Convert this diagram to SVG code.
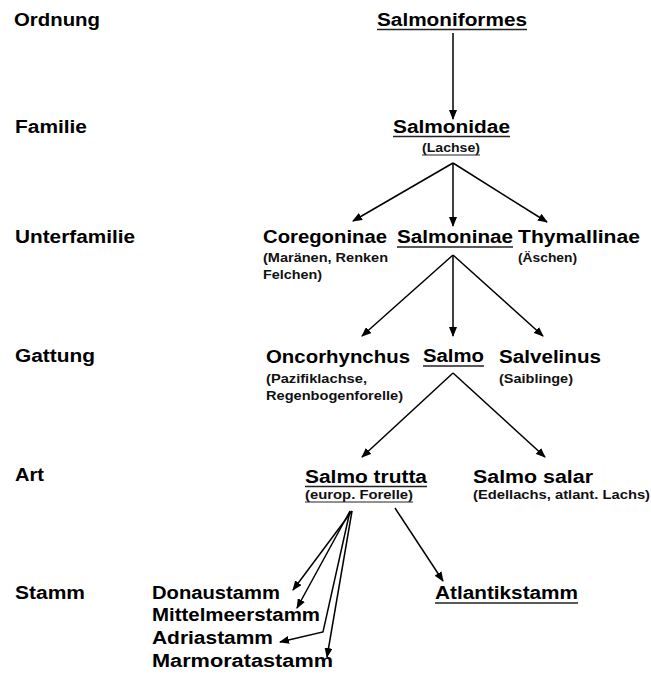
<svg xmlns="http://www.w3.org/2000/svg" width="651" height="680" viewBox="0 0 651 680">
<defs>
<marker id="ah" markerWidth="10" markerHeight="8" refX="9" refY="4" orient="auto" markerUnits="userSpaceOnUse">
<path d="M0,0 L10,4 L0,8 Z" fill="#000"/>
</marker>
<style>
.t{font-family:"Liberation Sans",Arial,sans-serif;font-weight:bold;font-size:18px;fill:#000}
.s{font-family:"Liberation Sans",Arial,sans-serif;font-weight:bold;font-size:12px;fill:#111}
.u{stroke:#222;stroke-width:1.5}
.c{stroke:#000;stroke-width:1.5;fill:none;marker-end:url(#ah)}
</style>
</defs>
<rect width="651" height="680" fill="#fff"/>
<g id="ranks">
<text class="t" x="14" y="26" textLength="86" lengthAdjust="spacingAndGlyphs">Ordnung</text>
<text class="t" x="15" y="133" textLength="72" lengthAdjust="spacingAndGlyphs">Familie</text>
<text class="t" x="15" y="243" textLength="120" lengthAdjust="spacingAndGlyphs">Unterfamilie</text>
<text class="t" x="15" y="362" textLength="80" lengthAdjust="spacingAndGlyphs">Gattung</text>
<text class="t" x="15" y="481" textLength="29" lengthAdjust="spacingAndGlyphs">Art</text>
<text class="t" x="15" y="599" textLength="70" lengthAdjust="spacingAndGlyphs">Stamm</text>
</g>
<g id="salmoniformes">
<text class="t" x="377" y="26" textLength="150" lengthAdjust="spacingAndGlyphs">Salmoniformes</text>
<line class="u" x1="377" y1="29.5" x2="527" y2="29.5"/>
</g>
<g id="salmonidae">
<text class="t" x="393" y="133" textLength="117" lengthAdjust="spacingAndGlyphs">Salmonidae</text>
<line class="u" x1="393" y1="136.5" x2="510" y2="136.5"/>
<text class="s" x="422" y="152" textLength="58" lengthAdjust="spacingAndGlyphs">(Lachse)</text>
<line class="u" x1="422" y1="155" x2="480" y2="155" style="stroke-width:1"/>
</g>
<g id="coregoninae">
<text class="t" x="263" y="243" textLength="124" lengthAdjust="spacingAndGlyphs">Coregoninae</text>
<text class="s" x="263" y="262" textLength="125" lengthAdjust="spacingAndGlyphs">(Maränen, Renken</text>
<text class="s" x="263" y="279" textLength="59" lengthAdjust="spacingAndGlyphs">Felchen)</text>
</g>
<g id="salmoninae">
<text class="t" x="397" y="243" textLength="116" lengthAdjust="spacingAndGlyphs">Salmoninae</text>
<line class="u" x1="397" y1="247" x2="513" y2="247"/>
</g>
<g id="thymallinae">
<text class="t" x="518" y="243" textLength="122" lengthAdjust="spacingAndGlyphs">Thymallinae</text>
<text class="s" x="518" y="262" textLength="59" lengthAdjust="spacingAndGlyphs">(Äschen)</text>
</g>
<g id="oncorhynchus">
<text class="t" x="266" y="363" textLength="144" lengthAdjust="spacingAndGlyphs">Oncorhynchus</text>
<text class="s" x="266" y="383" textLength="101" lengthAdjust="spacingAndGlyphs">(Pazifiklachse,</text>
<text class="s" x="266" y="400" textLength="137" lengthAdjust="spacingAndGlyphs">Regenbogenforelle)</text>
</g>
<g id="salmo">
<text class="t" x="423" y="362" textLength="61" lengthAdjust="spacingAndGlyphs">Salmo</text>
<line class="u" x1="423" y1="366" x2="484" y2="366"/>
</g>
<g id="salvelinus">
<text class="t" x="499" y="363" textLength="102" lengthAdjust="spacingAndGlyphs">Salvelinus</text>
<text class="s" x="499" y="383" textLength="74" lengthAdjust="spacingAndGlyphs">(Saiblinge)</text>
</g>
<g id="salmo-trutta">
<text class="t" x="305" y="483" textLength="122" lengthAdjust="spacingAndGlyphs">Salmo trutta</text>
<line class="u" x1="305" y1="486.5" x2="427" y2="486.5"/>
<text class="s" x="305" y="499" textLength="108" lengthAdjust="spacingAndGlyphs">(europ. Forelle)</text>
<line class="u" x1="305" y1="502" x2="413" y2="502" style="stroke-width:1"/>
</g>
<g id="salmo-salar">
<text class="t" x="473" y="483" textLength="120" lengthAdjust="spacingAndGlyphs">Salmo salar</text>
<text class="s" x="473" y="499" textLength="177" lengthAdjust="spacingAndGlyphs">(Edellachs, atlant. Lachs)</text>
</g>
<g id="donaustamm"><text class="t" x="152" y="599" textLength="128" lengthAdjust="spacingAndGlyphs">Donaustamm</text></g>
<g id="mittelmeerstamm"><text class="t" x="152" y="621" textLength="168" lengthAdjust="spacingAndGlyphs">Mittelmeerstamm</text></g>
<g id="adriastamm"><text class="t" x="152" y="644" textLength="121" lengthAdjust="spacingAndGlyphs">Adriastamm</text></g>
<g id="marmoratastamm"><text class="t" x="152" y="667" textLength="181" lengthAdjust="spacingAndGlyphs">Marmoratastamm</text></g>
<g id="atlantikstamm">
<text class="t" x="435" y="599" textLength="143" lengthAdjust="spacingAndGlyphs">Atlantikstamm</text>
<line class="u" x1="435" y1="603" x2="578" y2="603"/>
</g>
<g id="connectors">
<line class="c" x1="453" y1="33" x2="453" y2="119"/>
<line class="c" x1="453" y1="163" x2="353" y2="221"/>
<line class="c" x1="453" y1="163" x2="453" y2="226"/>
<line class="c" x1="453" y1="163" x2="547" y2="222"/>
<line class="c" x1="453" y1="255" x2="362" y2="336"/>
<line class="c" x1="453" y1="255" x2="453" y2="336"/>
<line class="c" x1="453" y1="255" x2="543" y2="336"/>
<line class="c" x1="453" y1="373" x2="362" y2="457"/>
<line class="c" x1="453" y1="373" x2="545" y2="457"/>
<line class="c" x1="352" y1="511" x2="293" y2="590"/>
<line class="c" x1="350" y1="511" x2="297" y2="608"/>
<polyline class="c" points="350,511 323,632 280,642"/>
<line class="c" x1="352" y1="511" x2="327" y2="657"/>
<line class="c" x1="395" y1="508" x2="443" y2="581"/>
</g>
</svg>
